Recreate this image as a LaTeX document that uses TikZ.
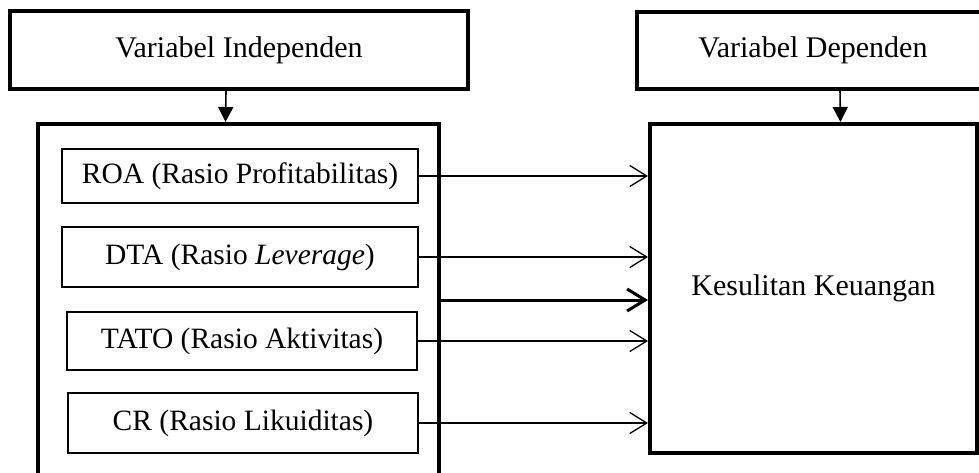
\documentclass[tikz,border=0pt]{standalone}
\usepackage{fontspec}
\setmainfont{Liberation Serif}
\usetikzlibrary{arrows.meta}

\begin{document}
\begin{tikzpicture}[x=1pt, y=-1pt,
  bigbox/.style={draw, line width=4pt, inner sep=0pt},
  varbox/.style={draw, line width=1.3pt, inner sep=0pt, font=\fontsize{29.5}{34}\selectfont},
  link/.style={line width=1.3pt, -{Straight Barb[length=17pt, width=21pt, line width=1.3pt]}},
  mainlink/.style={line width=3pt, -{Straight Barb[length=18pt, width=22pt, line width=3pt]}},
  down/.style={line width=1.6pt, -{Triangle[length=15pt, width=15pt]}}]

\useasboundingbox (0,0) rectangle (979,472);
\clip (0,0) rectangle (979,472);

\node [bigbox, minimum width=458pt, minimum height=78pt, font=\fontsize{30}{34}\selectfont] (vi) at (239,50) {Variabel Independen};
\node [bigbox, minimum width=352pt, minimum height=77pt, font=\fontsize{30}{34}\selectfont] (vd) at (813,50) {Variabel Dependen};

\node [bigbox, minimum width=401pt, minimum height=352pt] (indep) at (238.5,300) {};
\node [bigbox, minimum width=327pt, minimum height=329pt, font=\fontsize{30}{34}\selectfont] (kes) at (813.5,288.5) {Kesulitan Keuangan};

\node [varbox, minimum width=356pt, minimum height=54pt] (roa) at (240,176) {ROA (Rasio Profitabilitas)};
\node [varbox, minimum width=356pt, minimum height=60pt] (dta) at (240,257) {DTA (Rasio \textit{Leverage})};
\node [varbox, minimum width=350pt, minimum height=58pt] (tato) at (242,341) {TATO (Rasio Aktivitas)};
\node [varbox, minimum width=350pt, minimum height=60pt] (cr) at (243,423) {CR (Rasio Likuiditas)};

\draw [down] ([xshift=-13pt]vi.south) -- ([xshift=-13pt]indep.north);
\draw [down] ([xshift=27pt]vd.south) -- ([xshift=27pt]kes.north);

\draw [link] (roa.east) -- (roa.east -| kes.west);
\draw [link] (dta.east) -- (dta.east -| kes.west);
\draw [link] (tato.east) -- (tato.east -| kes.west);
\draw [link] (cr.east) -- (cr.east -| kes.west);
\draw [mainlink] (indep.east) -- (indep.east -| kes.west);

\end{tikzpicture}
\end{document}
